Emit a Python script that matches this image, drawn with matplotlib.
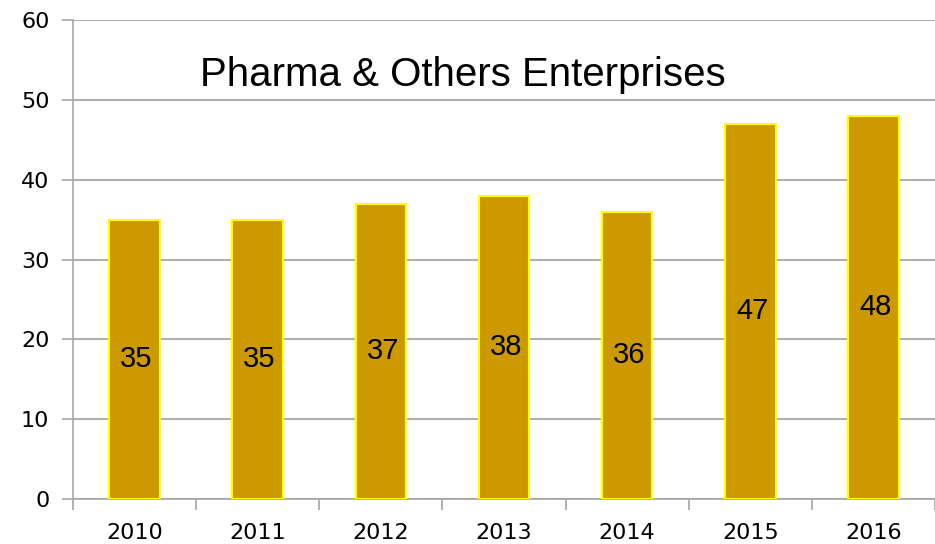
import matplotlib
matplotlib.use("Agg")
import matplotlib.pyplot as plt
import numpy as np

years = ["2010", "2011", "2012", "2013", "2014", "2015", "2016"]
values = [35, 35, 37, 38, 36, 47, 48]
y_ticks = [0, 10, 20, 30, 40, 50, 60]
title = "Pharma & Others Enterprises"

plt.rcParams["font.family"] = ["DejaVu Sans"]

fig = plt.figure(figsize=(9.35, 5.44), dpi=100)
ax = fig.add_axes([73 / 935, 1 - 499 / 544, (935 - 73) / 935, (499 - 20) / 544])

x = np.arange(len(years))
ax.bar(x, values, width=0.41, color="#CC9900", edgecolor="#FFFF00",
       linewidth=1.5, zorder=3)

for xi, v in zip(x, values):
    ax.text(xi + 0.015, v / 2, str(v), ha="center", va="center", fontsize=21,
            family="Liberation Sans", color="black", zorder=4)

ax.set_xlim(-0.5, len(years) - 0.5)
ax.set_ylim(0, 60)
ax.set_yticks(y_ticks)
ax.set_yticklabels([str(t) for t in y_ticks], fontsize=16)
ax.set_xticks(x)
ax.set_xticklabels(years, fontsize=16)
ax.set_xticks(np.arange(len(years) + 1) - 0.5, minor=True)
ax.tick_params(axis="x", which="major", length=0, pad=17)
ax.tick_params(axis="x", which="minor", length=8, color="#A6A6A6", width=1.2)
ax.tick_params(axis="y", length=8, color="#A6A6A6", width=1.2, pad=9)

ax.grid(axis="y", color="#B0B0B0", linewidth=1.5, zorder=0)
for s in ["top", "right"]:
    ax.spines[s].set_visible(False)
for s in ["left", "bottom"]:
    ax.spines[s].set_color("#A6A6A6")
    ax.spines[s].set_linewidth(1.2)

ax.text((463 - 73) / 862, 0.885, title, transform=ax.transAxes, ha="center",
        va="center", fontsize=29, family="Liberation Sans", color="black")

fig.savefig("out.png", dpi=100)
